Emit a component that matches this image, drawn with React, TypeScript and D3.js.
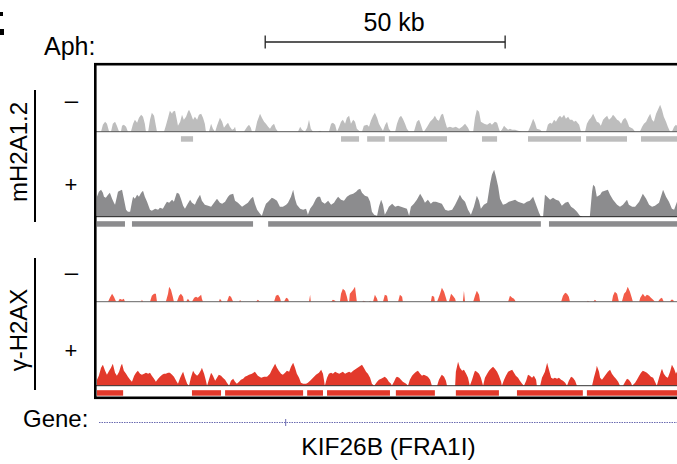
import React from "react";
import * as d3 from "d3";

// genomic positions are in bins of BIN_BP, signal is read-depth (arbitrary units)
const BIN_BP = 767;
const SCALEBAR_START = 45.7;
const SCALEBAR_KB = 50;

const mh2aMinus: [number, number][] = [
  [0,0],[1.1,0],[1.6,7],[2.2,10],[2.7,8],[3.3,0],[3.8,0],[4.3,8],[4.9,10],[5.4,6],[6.0,0],[6.5,0],[6.8,6],[7.3,7],[7.9,5],[8.4,0],
  [9.2,0],[9.8,8],[10.3,12],[10.9,9],[11.4,14],[12.0,17],[12.5,15],[13.0,8],[13.3,0],[13.9,0],[14.4,12],[14.9,19],[15.5,16],[16.0,6],[16.3,0],
  [18.2,0],[18.7,6],[19.3,14],[19.8,21],[20.4,18],[20.6,20],[21.2,21],[21.7,12],[22.0,6],[22.6,10],[23.1,17],[23.6,12],[24.2,15],[24.7,20],
  [25.0,22],[25.5,18],[26.1,12],[26.6,15],[27.2,12],[27.7,17],[28.3,18],[28.8,14],[29.3,8],[29.6,0],[30.4,0],[31.0,8],[31.5,3],[32.1,0],
  [32.6,6],[33.4,14],[34.0,10],[34.5,4],[35.1,7],[35.6,9],[36.1,5],[36.7,2],[37.2,3],[37.5,5],[37.8,0],[39.9,0],[40.8,5],[41.3,7],[41.8,4],
  [42.1,0],[42.9,0],[43.5,10],[44.3,18],[44.8,14],[45.4,10],[45.9,8],[46.5,5],[47.0,3],[47.5,6],[48.1,8],[48.6,3],[49.2,0],[54.6,0],[55.2,5],
  [55.7,2],[56.5,0],[57.1,4],[57.6,12],[58.1,3],[58.7,0],[60.0,0],[60.6,1],[61.1,0],[63.0,0],[63.6,8],[64.1,9],[64.7,7],[65.2,0],[65.8,5],
  [66.3,10],[66.8,12],[67.4,8],[67.9,14],[68.5,16],[69.0,8],[69.6,12],[70.1,10],[70.6,3],[71.5,0],[72.0,0],[72.5,6],[73.4,7],[73.9,5],
  [74.4,11],[75.0,16],[75.5,19],[76.1,14],[76.6,8],[77.2,4],[77.7,1],[78.3,7],[78.8,10],[79.3,3],[79.9,0],[81.0,0],[81.5,8],[82.1,14],
  [82.6,16],[83.1,13],[83.7,8],[84.2,3],[84.8,0],[86.1,0],[86.9,10],[87.5,12],[88.0,7],[88.6,0],[88.8,0],[89.7,5],[90.5,10],[91.3,13],
  [91.8,16],[92.4,12],[92.9,11],[93.5,17],[94.0,18],[94.6,10],[95.1,4],[95.9,5],[96.7,4],[97.5,5],[98.4,3],[99.2,5],[100.0,8],[100.8,4],
  [101.3,0],[102.2,0],[102.7,14],[103.2,22],[103.8,20],[104.3,10],[105.2,8],[106.0,7],[106.8,9],[107.3,7],[108.1,10],[108.7,9],[109.2,3],
  [109.5,0],[110.0,2],[110.6,6],[111.1,4],[111.7,2],[112.2,3],[112.8,2],[113.6,2],[114.4,1],[115.5,0],[117.1,0],[117.9,7],[118.5,13],
  [119.0,9],[119.5,3],[120.4,2],[120.9,0],[122.0,0],[122.5,7],[123.1,9],[123.6,8],[124.2,12],[124.7,10],[125.3,14],[125.8,16],[126.3,14],
  [126.9,17],[127.4,13],[128.0,15],[128.5,12],[129.1,12],[129.6,10],[130.1,11],[131.0,7],[131.5,0],[132.6,0],[133.1,8],[133.7,12],[134.2,14],
  [134.8,18],[135.3,14],[135.8,10],[136.4,9],[136.9,6],[137.5,12],[138.0,14],[138.6,16],[139.1,12],[139.7,14],[140.2,17],[140.7,15],
  [141.3,12],[141.8,11],[142.4,8],[142.9,12],[143.5,14],[144.0,11],[144.6,5],[145.1,4],[145.6,3],[146.2,0],[147.5,0],[148.1,5],[148.6,8],
  [149.2,10],[149.7,14],[150.3,18],[150.8,12],[151.3,10],[151.9,18],[152.4,22],[153.0,27],[153.5,22],[154.0,15],[154.6,10],[155.1,5],
  [155.7,0],[156.2,0],[156.8,5],[157.3,7],[157.8,5],[158.4,0],
];

const mh2aPlus: [number, number][] = [
  [0,20],[0.5,25],[1.1,27],[1.6,24],[1.9,20],[2.4,19],[3.0,22],[3.5,24],[4.1,18],[4.6,14],[4.9,12],[5.4,20],[5.7,25],[6.2,26],[6.8,27],
  [7.3,18],[7.9,7],[8.4,5],[9.0,5],[9.5,15],[9.8,20],[10.3,18],[10.9,22],[11.4,20],[12.0,24],[12.5,26],[13.0,20],[13.6,15],[14.4,7],
  [14.9,6],[15.8,8],[16.6,7],[17.1,9],[17.9,8],[18.5,12],[19.0,15],[19.6,14],[20.4,17],[20.9,15],[21.5,22],[21.7,24],[22.3,23],[22.8,18],
  [23.4,11],[23.9,8],[24.5,12],[25.3,17],[25.8,14],[26.6,12],[27.2,17],[28.0,22],[28.5,16],[29.3,12],[30.2,11],[31.0,10],[31.8,14],
  [32.6,18],[33.4,14],[34.0,13],[34.8,15],[35.6,20],[36.1,22],[37.0,23],[37.5,16],[38.3,14],[39.4,10],[40.2,12],[41.0,14],[41.8,18],
  [42.4,20],[42.9,13],[43.5,7],[44.3,3],[44.8,1],[45.4,8],[45.9,13],[46.5,15],[47.0,17],[47.5,19],[48.1,18],[48.9,16],[49.7,10],[50.5,10],
  [51.4,12],[51.9,14],[52.7,20],[53.3,27],[53.8,18],[54.3,12],[55.2,8],[56.0,7],[56.8,8],[57.3,2],[57.9,8],[58.7,12],[59.5,18],[60.0,20],
  [60.6,20],[61.1,15],[61.9,13],[62.8,16],[63.6,12],[64.4,14],[64.9,17],[65.5,20],[66.3,17],[67.1,16],[67.9,20],[68.7,22],[69.6,23],
  [70.4,25],[70.9,27],[71.5,28],[72.0,24],[72.8,21],[73.6,20],[74.2,15],[74.7,5],[75.3,2],[76.1,1],[76.6,10],[77.2,17],[77.7,12],[78.2,2],
  [78.8,6],[79.3,10],[80.2,13],[81.0,10],[81.8,11],[82.6,10],[83.4,9],[84.2,8],[84.8,1],[85.3,10],[86.1,13],[86.9,17],[87.8,23],[88.6,18],
  [89.1,14],[89.9,17],[90.7,13],[91.3,15],[92.1,15],[92.9,14],[93.7,13],[94.6,7],[95.4,6],[96.5,7],[97.3,12],[98.1,18],[98.6,22],[99.2,18],
  [100.0,15],[100.8,7],[101.6,2],[102.4,10],[103.2,21],[103.8,16],[104.3,8],[105.1,12],[106.0,14],[106.8,33],[107.3,42],[107.9,47],
  [108.4,40],[109.0,30],[109.5,18],[110.3,12],[111.1,13],[111.9,15],[112.8,16],[113.6,17],[114.4,15],[115.2,14],[116.0,13],[116.8,15],
  [117.6,16],[118.5,20],[119.0,15],[119.5,10],[120.1,4],[120.6,0],[121.2,0],[121.7,22],[122.3,20],[123.1,17],[123.9,19],[124.7,17],
  [125.5,16],[126.3,11],[127.2,14],[128.0,15],[128.8,10],[129.6,8],[130.4,5],[131.2,1],[132.0,0],[133.9,0],[134.5,25],[134.8,32],
  [135.3,30],[135.8,20],[136.7,22],[137.2,25],[138.0,26],[138.8,27],[139.4,22],[140.2,17],[141.3,12],[142.1,10],[142.9,12],[144.0,17],
  [144.5,12],[145.4,10],[146.2,10],[147.3,15],[148.3,23],[149.2,18],[150.0,12],[150.8,10],[151.6,11],[152.7,14],[153.8,27],[154.6,20],
  [155.4,15],[156.2,8],[156.8,7],[157.6,15],[158.4,18],
];

const h2axMinus: [number, number][] = [
  [0,0],[3.0,0],[3.5,4],[4.1,8],[4.6,5],[5.2,0],[5.7,0],[6.2,3],[6.8,2],[7.3,3],[7.6,0],[12.0,0],[12.2,2],[12.5,0],
  [14.4,0],[14.9,6],[15.5,8],[16.0,8],[16.3,0],[18.7,0],[19.3,8],[19.6,15],[20.1,12],[20.6,5],[20.9,0],
  [21.7,0],[22.3,6],[22.8,8],[23.4,5],[23.6,0],[24.2,0],[24.7,3],[25.3,0],[25.8,0],[26.4,4],[26.9,5],[27.4,4],[28.0,6],[28.3,7],[28.5,3],[28.8,0],
  [33.1,0],[33.4,3],[34.0,0],[35.3,0],[35.9,6],[36.4,5],[37.0,0],[38.6,0],[38.9,2],[39.1,0],[43.2,0],[43.7,2],[44.3,0],
  [48.1,0],[48.6,6],[49.2,7],[49.7,4],[50.0,0],[50.8,0],[51.4,4],[51.9,3],[52.2,0],[57.6,0],[57.9,7],[58.1,0],
  [63.6,0],[64.1,2],[64.7,1],[64.9,0],[66.0,0],[66.3,8],[66.8,13],[67.4,11],[67.9,5],[68.2,0],
  [68.5,0],[68.7,8],[69.6,12],[70.1,15],[70.4,6],[70.6,0],[72.0,0],[72.5,1],[73.1,0],[73.9,0],[74.2,1],[74.4,0],
  [75.0,0],[75.5,7],[76.1,3],[76.3,0],[77.7,0],[78.2,7],[78.8,6],[79.1,0],[81.8,0],[82.3,7],[82.9,5],[83.1,0],
  [90.7,0],[91.0,6],[91.6,5],[91.8,0],[92.4,0],[93.2,8],[93.7,14],[94.3,10],[94.8,4],[95.1,0],
  [95.6,0],[96.2,8],[96.7,6],[97.3,3],[97.5,0],[99.4,0],[99.7,11],[100.0,0],
  [102.2,0],[102.7,6],[103.2,11],[103.8,7],[104.1,0],[111.7,0],[112.2,6],[112.8,4],[113.3,3],[113.8,0],
  [126.1,0],[126.6,6],[127.2,9],[127.7,8],[128.2,5],[128.5,0],[133.1,0],[133.4,1],[133.7,0],[134.8,0],[135.3,2],[135.8,0],
  [139.9,0],[140.2,6],[140.7,10],[141.3,8],[141.8,0],[142.6,0],[143.2,8],[143.7,10],[144.2,15],[144.8,10],[145.3,4],[145.6,0],
  [147.3,0],[147.6,4],[148.3,8],[148.9,5],[149.4,7],[150.0,6],[150.5,4],[151.1,2],[151.6,0],
  [152.4,0],[153.0,3],[153.5,4],[154.0,0],[155.7,0],[156.0,2],[156.5,2],[156.8,0],[158.4,0],
];

const h2axPlus: [number, number][] = [
  [0,6],[0.5,10],[1.1,18],[1.6,21],[2.2,15],[2.7,11],[3.3,15],[3.8,18],[4.3,22],[4.9,13],[5.4,10],[6.0,14],[6.5,20],[6.8,22],[7.3,15],
  [7.9,12],[8.4,9],[9.0,6],[9.5,4],[10.1,10],[10.6,13],[11.1,15],[11.7,12],[12.2,11],[12.8,12],[13.3,13],[13.9,12],[14.4,13],[14.9,10],
  [15.5,7],[16.0,4],[16.6,7],[17.1,9],[17.7,11],[18.2,12],[18.7,12],[19.3,13],[19.8,13],[20.4,11],[20.9,9],[21.5,5],[22.0,2],[22.6,8],
  [23.1,12],[23.4,14],[23.9,8],[24.5,2],[25.0,0],[25.5,8],[26.1,15],[26.6,12],[27.2,10],[27.7,12],[28.3,16],[28.5,18],[29.1,12],[29.6,5],
  [29.9,0],[30.4,6],[31.0,13],[31.5,10],[32.1,5],[32.6,8],[33.1,11],[33.7,10],[34.2,8],[34.8,6],[35.3,3],[35.9,0],[36.4,5],[37.0,7],
  [37.5,4],[38.0,2],[38.6,4],[39.1,6],[39.7,7],[40.2,9],[40.8,10],[41.3,11],[42.1,12],[42.9,14],[43.7,10],[44.6,8],[45.4,9],[46.2,9],
  [47.0,12],[47.5,16],[48.1,20],[48.4,22],[48.9,18],[49.4,15],[50.0,12],[50.5,11],[51.1,13],[51.6,15],[52.2,14],[52.7,19],[53.3,23],
  [53.8,18],[54.3,12],[54.9,8],[55.4,3],[56.0,2],[56.8,2],[57.3,3],[57.9,5],[58.7,8],[59.5,11],[60.3,13],[60.9,16],[61.4,12],[61.7,5],
  [61.9,0],[62.5,8],[63.0,12],[63.6,13],[64.1,12],[64.7,14],[65.2,13],[65.8,12],[66.3,13],[66.8,14],[67.4,12],[67.9,13],[68.5,14],
  [69.0,13],[69.6,15],[70.4,17],[71.2,19],[72.0,21],[72.5,18],[73.1,14],[73.6,12],[74.2,8],[74.7,2],[75.3,0],[76.1,4],[76.6,6],[77.2,7],
  [77.7,8],[78.2,9],[78.8,7],[79.3,4],[79.9,2],[80.1,0],[80.7,4],[81.2,8],[81.5,9],[82.1,8],[82.6,6],[83.1,4],[84.0,2],[84.5,0],[85.0,6],
  [85.6,10],[86.1,12],[86.7,14],[87.2,15],[87.8,12],[88.3,10],[88.8,11],[89.4,10],[89.9,9],[90.5,6],[91.0,0],[92.4,0],[92.9,6],[93.5,10],
  [93.7,11],[94.3,9],[94.8,5],[95.1,0],[97.3,0],[97.5,14],[98.1,24],[98.6,18],[99.2,15],[99.7,16],[100.3,12],[100.8,8],[101.3,0],
  [101.9,6],[102.4,12],[102.7,15],[103.2,14],[103.8,12],[104.3,8],[104.9,0],[105.4,8],[106.0,12],[106.5,15],[107.0,17],[107.6,19],
  [108.1,17],[108.7,14],[109.2,10],[109.8,4],[110.0,0],[110.6,6],[111.1,10],[111.7,14],[112.2,15],[112.8,16],[113.3,13],[113.8,10],
  [114.4,8],[114.9,5],[115.5,2],[116.0,0],[116.6,5],[117.1,11],[117.6,10],[118.2,8],[118.7,10],[119.3,6],[119.5,0],[120.4,0],[120.9,8],
  [121.7,14],[122.3,23],[122.8,16],[123.4,8],[123.9,7],[124.4,8],[125.0,7],[125.5,8],[126.1,6],[126.6,5],[127.2,3],[127.7,0],[128.2,5],
  [128.8,9],[129.3,8],[129.9,5],[130.4,0],[134.5,0],[135.0,8],[135.6,16],[135.8,20],[136.4,14],[136.7,8],[137.2,6],[138.0,10],[138.8,14],
  [139.4,16],[139.9,12],[140.5,9],[141.0,7],[141.6,4],[142.1,0],[142.9,0],[143.5,4],[144.0,7],[144.5,6],[145.1,3],[145.4,0],[146.2,3],
  [146.7,6],[147.3,10],[147.8,13],[148.3,15],[148.9,14],[149.4,13],[150.0,11],[150.5,9],[151.1,8],[151.6,4],[152.1,0],[152.7,8],[153.3,15],
  [153.5,17],[154.0,12],[154.6,9],[155.1,8],[155.7,14],[156.2,21],[156.8,17],[157.3,12],[157.8,16],[158.4,14],
];

// called enriched domains
const mh2aMinusDomains: [number, number][] = [
  [22.8,26.1],[66.3,71.2],[73.4,78.2],[79.3,95.1],[104.6,108.7],[117.1,131.5],[132.9,144.0],[147.8,158.4],
];
const mh2aPlusDomains: [number, number][] = [
  [0,7.6],[9.5,42.4],[46.5,120.6],[122.8,158.4],
];
const h2axPlusDomains: [number, number][] = [
  [0,7.1],[25.8,33.7],[34.8,56.0],[57.1,61.4],[62.5,79.6],[81.2,91.8],[97.5,109.2],[114.1,132.0],[133.1,158.4],
];

const FONT = "'Liberation Sans', Arial, sans-serif";

export default function App() {
  const x = d3.scaleLinear().domain([0, 158.4]).range([97, 680]);
  const boxLeft = 95.3;
  const boxTop = 64.2;
  const boxBottom = 397.8;

  const tracks = [
    { data: mh2aMinus, base: 131.7, fill: "#bdbdbd", line: "#555", domains: mh2aMinusDomains, dc: "#bdbdbd" },
    { data: mh2aPlus, base: 216.7, fill: "#8c8c8e", line: "#222", domains: mh2aPlusDomains, dc: "#8c8c8e" },
    { data: h2axMinus, base: 301.7, fill: "#f25b48", line: "#666", domains: [] as [number, number][], dc: "" },
    { data: h2axPlus, base: 385.7, fill: "#e2392b", line: "#333", domains: h2axPlusDomains, dc: "#e2392b" },
  ];

  const sb0 = x(SCALEBAR_START);
  const sb1 = x(SCALEBAR_START + (SCALEBAR_KB * 1000) / BIN_BP);

  return (
    <svg width={677} height={464} style={{ position: "absolute", left: 0, top: 0, background: "#fff" }} fontFamily={FONT}>
      <defs>
        <clipPath id="box">
          <rect x={boxLeft} y={boxTop} width={700} height={boxBottom - boxTop} />
        </clipPath>
      </defs>

      {/* panel letter fragment, cut off at the page edge */}
      <rect x={0} y={12} width={3} height={4} fill="#000" />
      <rect x={0} y={29} width={4} height={6} fill="#000" />

      <text x={44} y={55} fontSize={25}>Aph:</text>
      <text x={(sb0 + sb1) / 2 + 9} y={30.5} fontSize={25} textAnchor="middle">{SCALEBAR_KB} kb</text>
      <line x1={sb0} x2={sb1} y1={42} y2={42} stroke="#222" strokeWidth={1.3} />
      <line x1={sb0} x2={sb0} y1={35.5} y2={48.5} stroke="#222" strokeWidth={1.3} />
      <line x1={sb1} x2={sb1} y1={35.5} y2={48.5} stroke="#222" strokeWidth={1.3} />

      <g clipPath="url(#box)">
        {tracks.map((t, i) => {
          const y = d3.scaleLinear().domain([0, 50]).range([t.base, t.base - 50]);
          const area = d3
            .area<[number, number]>()
            .x((d) => x(d[0]))
            .y0(t.base)
            .y1((d) => y(d[1]));
          return (
            <g key={i}>
              <path d={area(t.data) ?? ""} fill={t.fill} />
              <line x1={boxLeft} x2={700} y1={t.base} y2={t.base} stroke={t.line} strokeWidth={1} />
              {t.domains.map((r, j) => (
                <rect key={j} x={x(r[0])} width={x(r[1]) - x(r[0])} y={t.base + 4.5} height={5.5} fill={t.dc} />
              ))}
            </g>
          );
        })}
      </g>

      <rect x={boxLeft} y={boxTop} width={700} height={boxBottom - boxTop} fill="none" stroke="#000" strokeWidth={2.6} />

      {/* track labels */}
      <text transform="translate(27,152) rotate(-90)" fontSize={24} textAnchor="middle">mH2A1.2</text>
      <line x1={35} x2={35} y1={90} y2={222} stroke="#000" strokeWidth={2} />
      <text transform="translate(27,330) rotate(-90)" fontSize={24} textAnchor="middle">γ-H2AX</text>
      <line x1={35} x2={35} y1={258} y2={390} stroke="#000" strokeWidth={2} />

      <text x={71.5} y={107.5} fontSize={24} textAnchor="middle">–</text>
      <text x={71} y={192} fontSize={22} textAnchor="middle">+</text>
      <text x={71.5} y={279.5} fontSize={24} textAnchor="middle">–</text>
      <text x={71} y={358} fontSize={22} textAnchor="middle">+</text>

      {/* gene model */}
      <text x={23} y={427} fontSize={24}>Gene:</text>
      <line x1={99} x2={677} y1={422.5} y2={422.5} stroke="#6a6ab0" strokeWidth={1} strokeDasharray="1.5 1" />
      <line x1={285.7} x2={285.7} y1={419} y2={426} stroke="#6a6ab0" strokeWidth={1} />
      <text x={388.5} y={455} fontSize={24.5} textAnchor="middle">KIF26B (FRA1I)</text>
    </svg>
  );
}
